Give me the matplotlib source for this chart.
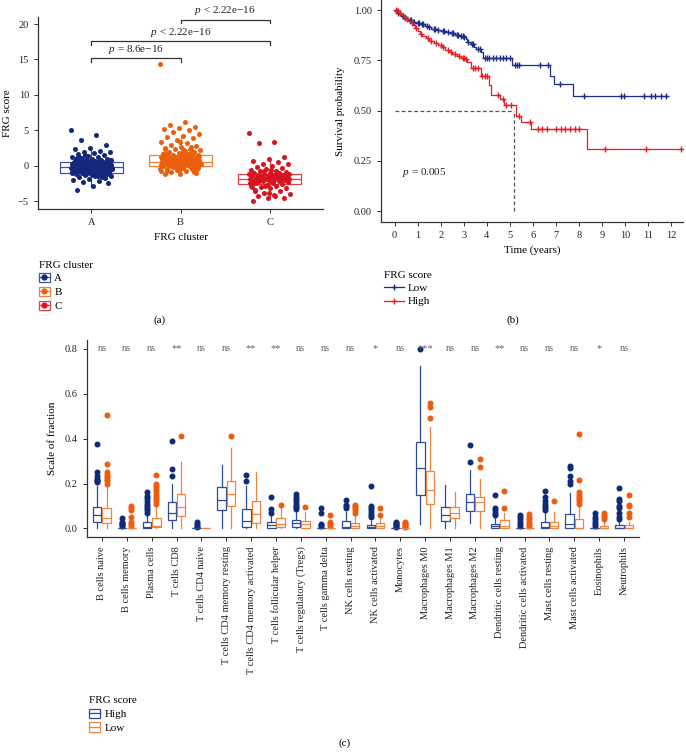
import numpy as np
import matplotlib
matplotlib.use('Agg')
import matplotlib.pyplot as plt
from matplotlib.lines import Line2D
from matplotlib.patches import Rectangle

plt.rcParams['font.family'] = ['Liberation Serif', 'DejaVu Serif']
plt.rcParams['font.size'] = 7.5
plt.rcParams['mathtext.fontset'] = 'custom'
plt.rcParams['mathtext.rm'] = 'Liberation Serif'
plt.rcParams['mathtext.it'] = 'Liberation Serif:italic'

# ---------------- Panel (a) data ----------------
clusters = ['A', 'B', 'C']
a_q1 = [-1.0, -0.1, -2.6]
a_med = [-0.24, 0.52, -1.84]
a_q3 = [0.47, 1.5, -1.13]
a_wlo = [-3.0, -1.2, -4.6]
a_whi = [2.4, 3.9, 0.95]
pts_A = [5.0, 4.4, 3.7, 2.9, 2.5, 2.3, 2.1, 2.0, 1.9, 1.8, 1.7, 1.5, 1.4, 1.3, 1.2, 1.1, 1.0,
         0.95, 0.9, 0.85, 0.8, 0.75, 0.7, 0.65, 0.6, 0.55, 0.5, 0.45, 0.4, 0.38, 0.35, 0.3,
         0.28, 0.25, 0.2, 0.18, 0.15, 0.1, 0.08, 0.05, 0.0, -0.02, -0.05, -0.1, -0.12, -0.15,
         -0.2, -0.22, -0.25, -0.28, -0.3, -0.35, -0.38, -0.4, -0.45, -0.48, -0.5, -0.55, -0.6,
         -0.62, -0.65, -0.7, -0.72, -0.75, -0.8, -0.85, -0.9, -0.92, -0.95, -1.0, -1.05, -1.1,
         -1.15, -1.2, -1.25, -1.3, -1.4, -1.5, -1.6, -1.7, -1.8, -2.0, -2.2, -2.3, -2.4, -2.9, -3.4,
         0.3, 0.1, -0.3, -0.6, 0.6, -0.1, 0.2, -0.5, 0.0, -0.8, 0.4, -0.4, 1.2, -1.2, 0.7, -0.2,
         0.5, 0.25, -0.05, -0.35, -0.65, -0.9, -1.1, 0.15, -0.15, -0.45, -0.75, 0.35, 0.05,
         -0.25, -0.55, -0.85, -1.3, 0.9, 0.45, -0.7, -1.0, 0.2, -0.3, -0.6, 0.0, -0.4, -1.5,
         1.5, 0.8, -0.2, -0.5, 0.1, -0.1, -0.8, -1.4, 0.6, 0.3, -0.95, 1.1, -1.6, 0.4, -0.35]
pts_B = [14.3, 6.2, 5.8, 5.5, 5.3, 5.2, 5.0, 4.8, 4.5, 4.2, 4.0, 3.9, 3.6, 3.4, 3.2, 3.0, 2.8,
         2.6, 2.5, 2.4, 2.3, 2.2, 2.1, 2.0, 1.9, 1.8, 1.7, 1.6, 1.55, 1.5, 1.45, 1.4, 1.35, 1.3,
         1.25, 1.2, 1.15, 1.1, 1.05, 1.0, 0.95, 0.9, 0.85, 0.8, 0.75, 0.7, 0.65, 0.6, 0.55, 0.5,
         0.45, 0.4, 0.35, 0.3, 0.25, 0.2, 0.15, 0.1, 0.05, 0.0, -0.05, -0.1, -0.15, -0.2, -0.3,
         -0.4, -0.5, -0.6, -0.7, -0.8, -0.9, -1.0, -1.1, -1.2,
         0.6, 0.4, 0.2, 1.0, 0.8, 0.1, 0.3, 1.3, 0.5, 0.0, -0.3, 0.7, 1.6, 2.1, 0.9, -0.5,
         0.45, 0.65, 0.85, 1.15, 0.25, 0.05, -0.2, 1.4, 1.8, 0.35, 0.55, 0.75, 0.95, 1.2,
         -0.1, -0.4, 0.15, 2.4, 2.7, 0.6, 0.3, 1.0, 0.5, 0.0, -0.6, 1.7, 0.8, 0.2, 1.1, 0.4,
         -0.8, 1.9, 0.7, 0.1, 1.5, 0.9, -0.3, 3.3, 0.55, 1.25, -0.05, 0.35, 2.2, 0.65, -0.9]
pts_C = [4.6, 3.4, 3.2, 1.2, 0.9, 0.7, 0.5, 0.3, 0.2, 0.0, -0.2, -0.3, -0.5, -0.6, -0.7, -0.8,
         -0.9, -1.0, -1.05, -1.1, -1.15, -1.2, -1.25, -1.3, -1.35, -1.4, -1.45, -1.5, -1.55,
         -1.6, -1.65, -1.7, -1.75, -1.8, -1.85, -1.9, -1.95, -2.0, -2.05, -2.1, -2.15, -2.2,
         -2.3, -2.4, -2.5, -2.6, -2.7, -2.8, -2.9, -3.0, -3.1, -3.2, -3.4, -3.6, -3.8, -4.0,
         -4.1, -4.3, -4.5, -4.6, -5.0, -1.5, -1.8, -2.0, -1.3, -2.2, -1.6, -1.9, -2.4, -1.2,
         -1.4, -1.7, -2.1, -2.5, -1.0, -0.8, -1.85, -2.3, -1.55, -1.25, -2.65, -3.0, -1.65,
         -2.05, -1.45, -0.6, -3.5, -1.95, -2.8, -1.1, -4.2, -2.15, -1.75, -3.9, -2.35]
a_points = [pts_A, pts_B, pts_C]
a_pt_colors = ['#13287a', '#ec5f0c', '#d7141f']
a_box_colors = ['#3a57a6', '#f28136', '#e8403f']

# ---------------- Panel (b) data ----------------
low_t = [0, 0.05, 0.1, 0.15, 0.2, 0.3, 0.4, 0.5, 0.6, 0.75, 0.9, 1.1, 1.3, 1.45, 1.6, 1.8, 2.0,
         2.2, 2.4, 2.6, 2.8, 3.0, 3.1, 3.15, 3.3, 3.45, 3.55, 3.75, 3.85, 5.1, 6.75, 6.9, 7.75]
low_s = [1.0, 0.995, 0.99, 0.985, 0.978, 0.97, 0.962, 0.955, 0.948, 0.942, 0.937, 0.93, 0.922,
         0.915, 0.908, 0.9, 0.895, 0.889, 0.884, 0.878, 0.872, 0.866, 0.855, 0.843, 0.83, 0.818,
         0.805, 0.79, 0.763, 0.727, 0.672, 0.632, 0.572]
low_end = 11.8
low_cens = [0.15, 0.35, 0.45, 0.65, 0.7, 0.85, 1.0, 1.05, 1.2, 1.25, 1.4, 1.5, 1.7, 1.75, 1.9,
            2.1, 2.15, 2.3, 2.5, 2.55, 2.7, 2.75, 2.9, 2.95, 3.0, 3.2, 3.35, 3.4, 3.6, 3.7, 3.9,
            4.0, 4.1, 4.25, 4.4, 4.55, 4.7, 4.85, 5.0, 5.2, 5.3, 5.4, 6.3, 6.65, 7.15, 8.2, 9.8,
            9.95, 10.8, 11.1, 11.3, 11.55, 11.75]
high_t = [0, 0.1, 0.2, 0.3, 0.4, 0.5, 0.6, 0.7, 0.8, 0.9, 1.0, 1.1, 1.2, 1.35, 1.5, 1.7, 1.9,
          2.05, 2.2, 2.35, 2.5, 2.7, 2.9, 3.05, 3.15, 3.3, 3.75, 4.1, 4.2, 4.55, 4.75, 5.25,
          5.5, 5.9, 8.35]
high_s = [1.0, 0.995, 0.985, 0.975, 0.965, 0.955, 0.945, 0.935, 0.925, 0.91, 0.895, 0.88,
          0.87, 0.86, 0.848, 0.835, 0.825, 0.815, 0.8, 0.79, 0.78, 0.77, 0.762, 0.755, 0.74,
          0.71, 0.672, 0.627, 0.578, 0.555, 0.53, 0.474, 0.444, 0.41, 0.307]
high_end = 12.4
high_cens = [0.05, 0.1, 0.15, 0.25, 0.45, 0.55, 0.75, 0.95, 1.15, 1.45, 1.6, 1.8, 2.0, 2.1,
             2.3, 2.45, 2.6, 2.8, 2.95, 3.0, 3.1, 3.4, 3.5, 3.6, 3.8, 3.9, 4.0, 4.5, 4.7, 4.85,
             5.05, 5.4, 5.85, 6.2, 6.4, 6.6, 7.0, 7.2, 7.4, 7.6, 7.8, 8.0, 9.1, 10.9, 12.4]
median_time = 5.18
low_color = '#1f2d8a'
high_color = '#e31e26'

# ---------------- Panel (c) data ----------------
cells = ['B cells naive', 'B cells memory', 'Plasma cells', 'T cells CD8', 'T cells CD4 naive',
         'T cells CD4 memory resting', 'T cells CD4 memory activated', 'T cells follicular helper',
         'T cells regulatory (Tregs)', 'T cells gamma delta', 'NK cells resting',
         'NK cells activated', 'Monocytes', 'Macrophages M0', 'Macrophages M1', 'Macrophages M2',
         'Dendritic cells resting', 'Dendritic cells activated', 'Mast cells resting',
         'Mast cells activated', 'Eosinophils', 'Neutrophils']
signif = ['ns', 'ns', 'ns', '**', 'ns', 'ns', '**', '**', 'ns', 'ns', 'ns', '*', 'ns', '***',
          'ns', 'ns', '**', 'ns', 'ns', 'ns', '*', 'ns']
hi_q1 = [0.027, 0.0, 0.003, 0.036, 0.0, 0.082, 0.004, 0.003, 0.008, 0.0, 0.0, 0.0, 0.0, 0.149,
         0.031, 0.079, 0.0, 0.0, 0.0, 0.0, 0.0, 0.0]
hi_med = [0.061, 0.0, 0.008, 0.07, 0.0, 0.128, 0.031, 0.013, 0.025, 0.0, 0.006, 0.007, 0.0,
          0.268, 0.06, 0.116, 0.012, 0.0, 0.006, 0.019, 0.0, 0.002]
hi_q3 = [0.095, 0.002, 0.028, 0.116, 0.0, 0.184, 0.085, 0.027, 0.039, 0.002, 0.031, 0.015,
         0.001, 0.387, 0.095, 0.153, 0.019, 0.002, 0.03, 0.065, 0.002, 0.016]
hi_wlo = [0.0, 0.0, 0.0, 0.0, 0.0, 0.0, 0.0, 0.0, 0.0, 0.0, 0.0, 0.0, 0.0, 0.018, 0.003, 0.024,
          0.0, 0.0, 0.0, 0.0, 0.0, 0.0]
hi_whi = [0.187, 0.005, 0.06, 0.2, 0.0, 0.283, 0.19, 0.055, 0.075, 0.005, 0.075, 0.035, 0.002,
          0.726, 0.192, 0.259, 0.045, 0.005, 0.07, 0.158, 0.005, 0.035]
hi_fliers = [[0.205, 0.21, 0.215, 0.22, 0.235, 0.25, 0.375],
             [0.01, 0.015, 0.02, 0.025, 0.03, 0.045],
             [0.07, 0.08, 0.09, 0.1, 0.11, 0.12, 0.135, 0.145, 0.16],
             [0.235, 0.265, 0.39],
             [0.005, 0.01, 0.02, 0.03],
             [],
             [0.21, 0.24],
             [0.07, 0.085, 0.14],
             [0.085, 0.095, 0.1, 0.11, 0.12, 0.13, 0.14, 0.155],
             [0.01, 0.015, 0.02, 0.07, 0.09],
             [0.09, 0.1, 0.105, 0.128],
             [0.05, 0.06, 0.07, 0.08, 0.09, 0.1, 0.19],
             [0.005, 0.01, 0.015, 0.02, 0.025, 0.03],
             [0.8],
             [],
             [0.297, 0.37],
             [0.06, 0.07, 0.08, 0.09, 0.15],
             [0.01, 0.02, 0.03, 0.04, 0.05, 0.06],
             [0.08, 0.09, 0.1, 0.11, 0.12, 0.14, 0.165],
             [0.2, 0.21, 0.235, 0.27, 0.28],
             [0.01, 0.02, 0.03, 0.04, 0.05, 0.07],
             [0.04, 0.05, 0.07, 0.09, 0.1, 0.12, 0.13, 0.18]]
lo_q1 = [0.024, 0.0, 0.005, 0.054, 0.0, 0.1, 0.024, 0.006, 0.002, 0.0, 0.0, 0.0, 0.0, 0.11,
         0.046, 0.076, 0.0, 0.0, 0.0, 0.0, 0.0, 0.0]
lo_med = [0.045, 0.0, 0.012, 0.094, 0.0, 0.153, 0.064, 0.021, 0.018, 0.0, 0.009, 0.012, 0.0,
          0.171, 0.07, 0.116, 0.01, 0.0, 0.01, 0.001, 0.002, 0.002]
lo_q3 = [0.091, 0.001, 0.045, 0.153, 0.0, 0.21, 0.12, 0.046, 0.031, 0.001, 0.024, 0.024, 0.001,
         0.257, 0.095, 0.14, 0.036, 0.001, 0.03, 0.042, 0.012, 0.015]
lo_wlo = [0.0] * 22
lo_whi = [0.19, 0.005, 0.1, 0.295, 0.0, 0.36, 0.25, 0.095, 0.075, 0.005, 0.06, 0.05, 0.002,
          0.452, 0.162, 0.222, 0.07, 0.005, 0.075, 0.1, 0.03, 0.03]
lo_fliers = [[0.2, 0.21, 0.22, 0.23, 0.24, 0.25, 0.285, 0.507],
             [0.01, 0.02, 0.03, 0.05, 0.08, 0.09, 0.1],
             [0.11, 0.12, 0.13, 0.14, 0.15, 0.16, 0.17, 0.18, 0.19, 0.2, 0.24],
             [0.41],
             [],
             [0.41],
             [],
             [0.105],
             [0.095],
             [0.01, 0.02, 0.03, 0.06],
             [0.07, 0.08, 0.09, 0.1, 0.105],
             [0.06, 0.09],
             [0.005, 0.01, 0.015, 0.02, 0.025, 0.03],
             [0.49, 0.54, 0.56],
             [],
             [0.275, 0.31],
             [0.09, 0.165],
             [0.01, 0.02, 0.03, 0.04, 0.05, 0.065],
             [0.123],
             [0.11, 0.12, 0.13, 0.14, 0.15, 0.16, 0.216, 0.42],
             [0.04, 0.05, 0.06, 0.07],
             [0.05, 0.07, 0.1, 0.103, 0.15]]
hi_edge = '#2d4b9b'
hi_pt = '#0f2a78'
lo_edge = '#f28441'
lo_pt = '#ee5c12'

# ---------------- Figure ----------------
fig = plt.figure(figsize=(6.86, 7.55), dpi=100)
axis_col = '#333333'


def style(ax):
    for s in ['top', 'right']:
        ax.spines[s].set_visible(False)
    for s in ['left', 'bottom']:
        ax.spines[s].set_color(axis_col)
        ax.spines[s].set_linewidth(0.9)
    ax.tick_params(colors=axis_col, length=3, width=0.7, labelsize=7.5, labelcolor='#222222')


# ----- (a) -----
axa = fig.add_axes([0.0554, 0.7232, 0.4156, 0.2543])
style(axa)
stats_a = [dict(med=a_med[i], q1=a_q1[i], q3=a_q3[i], whislo=a_wlo[i], whishi=a_whi[i], fliers=[])
           for i in range(3)]
for i in range(3):
    axa.bxp([stats_a[i]], positions=[i + 1], widths=0.7, showcaps=False, patch_artist=True,
            boxprops=dict(facecolor='none', edgecolor=a_box_colors[i], linewidth=0.9),
            medianprops=dict(color=a_box_colors[i], linewidth=0.9),
            whiskerprops=dict(color=a_box_colors[i], linewidth=0.9), manage_ticks=False,
            zorder=2)
for i in range(3):
    vals = np.array(a_points[i])
    n = len(vals)
    offs = ((np.arange(n) * 0.6180339) % 1.0 - 0.5) * 0.46
    axa.scatter(i + 1 + offs, vals, s=13, color=a_pt_colors[i], zorder=3, linewidths=0)
axa.set_xlim(0.4, 3.6)
axa.set_ylim(-6.1, 21.0)
axa.set_xticks([1, 2, 3])
axa.set_xticklabels(clusters)
axa.set_yticks([-5, 0, 5, 10, 15, 20])
axa.set_yticklabels(['\u22125', '0', '5', '10', '15', '20'])
axa.set_xlabel('FRG cluster', fontsize=8, labelpad=4)
axa.set_ylabel('FRG score', fontsize=8, labelpad=4)

brackets = [(1, 2, 15.2, '$p$ = 8.6e\u221216'), (1, 3, 17.6, '$p$ < 2.22e\u221216'),
            (2, 3, 20.6, '$p$ < 2.22e\u221216')]
for x0, x1, yb, lab in brackets:
    axa.plot([x0, x0, x1, x1], [yb - 0.5, yb, yb, yb - 0.5], color=axis_col, lw=0.9,
             clip_on=False)
    axa.text((x0 + x1) / 2, yb + 0.35, lab, ha='center', va='bottom', fontsize=8,
             color='#222222', clip_on=False)

# legend (a)
ha_handles = []
for i in range(3):
    ha_handles.append((Rectangle((0, 0), 1, 1, facecolor='none', edgecolor=a_box_colors[i],
                                 linewidth=0.9),
                       Line2D([], [], color=a_box_colors[i], marker='o', markersize=3.5,
                              markerfacecolor=a_pt_colors[i], markeredgecolor=a_pt_colors[i],
                              lw=0.9)))
lega = fig.legend(ha_handles, clusters, loc='upper left', bbox_to_anchor=(0.045, 0.665),
                  frameon=False, title='FRG cluster', fontsize=8, title_fontsize=8,
                  handlelength=1.0, handleheight=0.9, handletextpad=0.4, labelspacing=0.3,
                  alignment='left', borderpad=0.2)

# ----- (b) -----
axb = fig.add_axes([0.555, 0.7064, 0.4406, 0.2936])
style(axb)


def step_at(ts, ss, x):
    idx = np.searchsorted(np.array(ts), np.array(x), side='right') - 1
    return np.array(ss)[idx]


for ts, ss, tend, cens, col in [(low_t, low_s, low_end, low_cens, low_color),
                                (high_t, high_s, high_end, high_cens, high_color)]:
    xs = list(ts) + [tend]
    ys = list(ss) + [ss[-1]]
    axb.step(xs, ys, where='post', color=col, lw=0.9)
    axb.plot(cens, step_at(ts, ss, cens), linestyle='none', marker='+', markersize=4.5,
             markeredgewidth=1.0, color=col)
axb.plot([0, median_time], [0.5, 0.5], color='#555555', lw=0.9, linestyle=(0, (3, 2)))
axb.plot([median_time, median_time], [0, 0.5], color='#555555', lw=0.9, linestyle=(0, (3, 2)))
axb.text(0.32, 0.19, '$p$ = 0.005', fontsize=8, color='#222222', va='center', ha='left')
axb.set_xlim(-0.6, 12.5)
axb.set_ylim(-0.053, 1.05)
axb.set_xticks(range(0, 13))
axb.set_yticks([0, 0.25, 0.5, 0.75, 1.0])
axb.set_yticklabels(['0.00', '0.25', '0.50', '0.75', '1.00'])
axb.set_xlabel('Time (years)', fontsize=8, labelpad=4)
axb.set_ylabel('Survival probability', fontsize=8, labelpad=6)

hb = [Line2D([], [], color=low_color, marker='+', markersize=4.5, lw=0.9),
      Line2D([], [], color=high_color, marker='+', markersize=4.5, lw=0.9)]
legb = fig.legend(hb, ['Low', 'High'], loc='upper left', bbox_to_anchor=(0.548, 0.651),
                  frameon=False, title='FRG score', fontsize=8, title_fontsize=8,
                  handlelength=1.8, handletextpad=0.4, labelspacing=0.3, alignment='left',
                  borderpad=0.2)

# ----- (c) -----
axc = fig.add_axes([0.1268, 0.2883, 0.8047, 0.2614])
style(axc)
pos = np.arange(1, len(cells) + 1)
fl_hi = dict(marker='o', markersize=3.3, markerfacecolor=hi_pt, markeredgecolor=hi_pt,
             linestyle='none')
fl_lo = dict(marker='o', markersize=3.3, markerfacecolor=lo_pt, markeredgecolor=lo_pt,
             linestyle='none')
stats_hi = [dict(med=hi_med[i], q1=hi_q1[i], q3=hi_q3[i], whislo=hi_wlo[i], whishi=hi_whi[i],
                 fliers=hi_fliers[i]) for i in range(len(cells))]
stats_lo = [dict(med=lo_med[i], q1=lo_q1[i], q3=lo_q3[i], whislo=lo_wlo[i], whishi=lo_whi[i],
                 fliers=lo_fliers[i]) for i in range(len(cells))]
axc.bxp(stats_hi, positions=pos - 0.1875, widths=0.34, showcaps=False, patch_artist=True,
        boxprops=dict(facecolor='white', edgecolor=hi_edge, linewidth=0.9),
        medianprops=dict(color=hi_edge, linewidth=0.9),
        whiskerprops=dict(color=hi_edge, linewidth=0.9), flierprops=fl_hi, manage_ticks=False)
axc.bxp(stats_lo, positions=pos + 0.1875, widths=0.34, showcaps=False, patch_artist=True,
        boxprops=dict(facecolor='white', edgecolor=lo_edge, linewidth=0.9),
        medianprops=dict(color=lo_edge, linewidth=0.9),
        whiskerprops=dict(color=lo_edge, linewidth=0.9), flierprops=fl_lo, manage_ticks=False)
for i, s in enumerate(signif):
    axc.text(pos[i], 0.8, s, ha='center', va='center', fontsize=7.5, color='#666666')
axc.set_xlim(0.4, len(cells) + 0.6)
axc.set_ylim(-0.04, 0.84)
axc.set_xticks(pos)
axc.set_xticklabels(cells, rotation=90, fontsize=7.5)
axc.set_yticks([0, 0.2, 0.4, 0.6, 0.8])
axc.set_yticklabels(['0.0', '0.2', '0.4', '0.6', '0.8'])
axc.set_ylabel('Scale of fraction', fontsize=8, labelpad=6)

hc = [(Rectangle((0, 0), 1, 1, facecolor='white', edgecolor=hi_edge, linewidth=0.9),
       Line2D([], [], color=hi_edge, lw=0.9)),
      (Rectangle((0, 0), 1, 1, facecolor='white', edgecolor=lo_edge, linewidth=0.9),
       Line2D([], [], color=lo_edge, lw=0.9))]
legc = fig.legend(hc, ['High', 'Low'], loc='upper left', bbox_to_anchor=(0.118, 0.088),
                  frameon=False, title='FRG score', fontsize=8, title_fontsize=8,
                  handlelength=1.0, handleheight=0.9, handletextpad=0.4, labelspacing=0.3,
                  alignment='left', borderpad=0.2)

fig.text(0.232, 0.576, '(a)', ha='center', va='center', fontsize=8)
fig.text(0.748, 0.576, '(b)', ha='center', va='center', fontsize=8)
fig.text(0.503, 0.016, '(c)', ha='center', va='center', fontsize=8)

fig.savefig('out.png', dpi=100)
